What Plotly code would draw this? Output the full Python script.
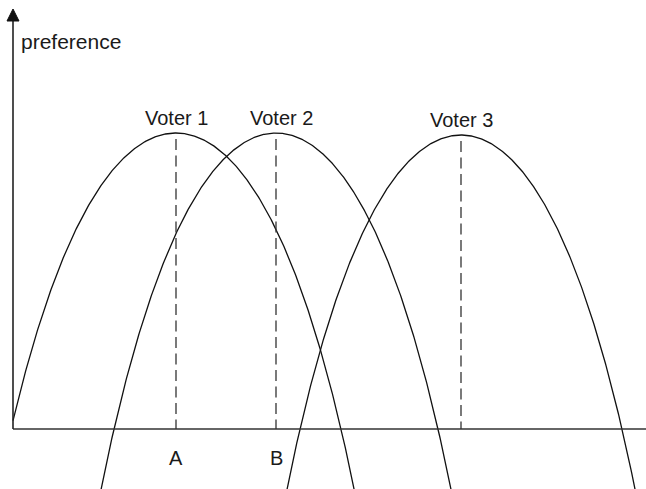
import numpy as np
import plotly.graph_objects as go

# Data (in chart units: origin at axes corner)
voters = ["Voter 1", "Voter 2", "Voter 3"]
ideal_points = [163, 263, 448]      # x position of each voter's peak
peak_pref = [296, 296, 294]         # preference level at the peak
half_widths = [165, 162, 161]       # distance from peak to zero-preference point
curve_start = [0, None, None]       # Voter 1 curve begins at the y-axis
curvature = 0.0093                  # shape of the preference curves (hyperbolic-cosine falloff)
tick_labels = {"A": 163, "B": 263}
x_range = [-13, 633]
y_range = [-60, 429]

fig = go.Figure()

for name, xp, h, w, xs in zip(voters, ideal_points, peak_pref, half_widths, curve_start):
    scale = h / (np.cosh(curvature * w) - 1)
    reach = np.arccosh((h + 75) / scale + 1) / curvature
    lo = xp - reach if xs is None else xs
    xs_ = np.linspace(lo, xp + reach, 500)
    ys_ = h - scale * (np.cosh(curvature * (xs_ - xp)) - 1)
    fig.add_trace(go.Scatter(x=xs_, y=ys_, mode="lines",
                             line=dict(color="#111", width=1.3),
                             hoverinfo="skip", showlegend=False))
    # dashed drop line from peak to axis
    fig.add_shape(type="line", x0=xp, x1=xp, y0=h - 6, y1=0,
                  line=dict(color="#333", width=1.3, dash="11px,5.5px"))

font = dict(family="Liberation Sans, Arial, sans-serif", size=20, color="#1a1a1a")

label_dx = [0, 5, 0]
label_dy = [311, 311, 309]
for name, xp, dx, ly in zip(voters, ideal_points, label_dx, label_dy):
    fig.add_annotation(x=xp + dx, y=ly, text=name, showarrow=False, font=font,
                       xanchor="center", yanchor="middle")

for lab, xv in tick_labels.items():
    fig.add_annotation(x=xv, y=-29, text=lab, showarrow=False, font=font,
                       xanchor="center", yanchor="middle")

fig.add_annotation(x=6, y=388, text="preference", showarrow=False,
                   font=dict(font, size=21), xanchor="left", yanchor="middle")

# axes
fig.add_shape(type="line", x0=0, x1=x_range[1], y0=0, y1=0,
              line=dict(color="#333", width=1.6))
fig.add_shape(type="line", x0=0, x1=0, y0=0, y1=412,
              line=dict(color="#222", width=1.6))
fig.add_shape(type="path", path="M 0 420 L -6 408 L 6 408 Z",
              fillcolor="#111", line=dict(color="#111", width=1))

fig.update_layout(
    width=646, height=489,
    margin=dict(l=0, r=0, t=0, b=0),
    paper_bgcolor="white", plot_bgcolor="white",
    xaxis=dict(range=x_range, visible=False, fixedrange=True),
    yaxis=dict(range=y_range, visible=False, fixedrange=True),
)

fig.write_html("out.html", config={"displayModeBar": False},
               post_script="document.body.style.margin='0';document.body.style.overflow='hidden';")
